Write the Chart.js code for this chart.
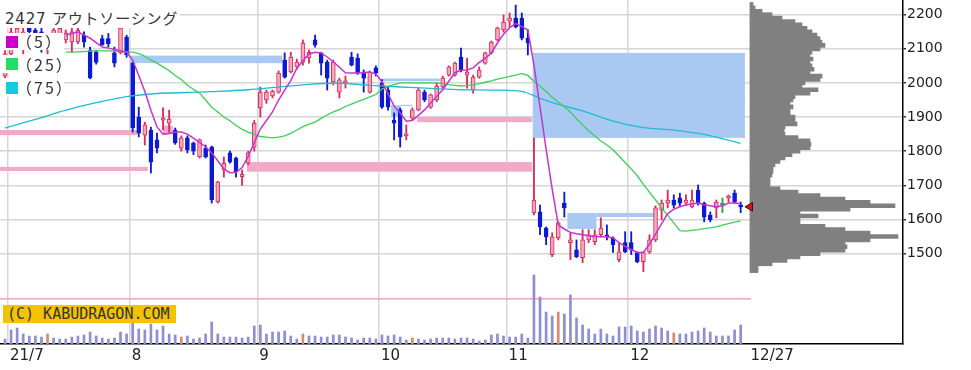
<!DOCTYPE html>
<html lang="ja">
<head>
<meta charset="utf-8">
<title>2427 アウトソーシング</title>
<script src="https://cdn.jsdelivr.net/npm/chart.js@4.4.1/dist/chart.umd.min.js"></script>
<style>
  html, body { margin: 0; padding: 0; background: #fff; }
  #wrap { position: relative; width: 971px; height: 370px; overflow: hidden; }
  #mainChart { position: absolute; left: 0; top: 0; }
  #profileChart { position: absolute; left: 740px; top: 0; }
  .box { position: absolute; background: #fff; color: #333; white-space: nowrap; }
  #title { left: 0; top: 0; width: 180px; height: 28px; padding: 11px 0 0 5px; box-sizing: border-box;
           font: 15px "DejaVu Sans", "Noto Sans CJK JP", sans-serif; line-height: 17px; letter-spacing: 0.8px; }
  .legend-row { left: 0; width: 64px; font: 16px "Noto Sans CJK JP", sans-serif; letter-spacing: 2px; }
  .legend-row .swatch { position: absolute; left: 6px; width: 12px; height: 12px; }
  .legend-row .label { position: absolute; left: 16px; top: 0; }
  #copyright { left: 3px; top: 305px; width: 173px; height: 18px; padding-left: 4px; box-sizing: border-box;
               background: #f3c300; font: 15px "DejaVu Sans Mono", monospace; line-height: 18px; }
</style>
</head>
<body>
<div id="wrap">
  <canvas id="mainChart" width="971" height="370"></canvas>
  <canvas id="profileChart" width="163" height="344"></canvas>
  <div id="title" class="box">2427 アウトソーシング</div>
  <div class="box legend-row" style="top:33px;height:17px;">
    <span class="swatch" style="top:3px;background:#cc00cc;"></span><span class="label" style="line-height:17px;">（5）</span>
  </div>
  <div class="box legend-row" style="top:55px;height:18px;">
    <span class="swatch" style="top:3px;background:#22dd66;"></span><span class="label" style="line-height:18px;">（25）</span>
  </div>
  <div class="box legend-row" style="top:78px;height:19px;">
    <span class="swatch" style="top:4px;background:#11ccdd;"></span><span class="label" style="line-height:19px;">（75）</span>
  </div>
  <div id="copyright" class="box">(C) KABUDRAGON.COM</div>
</div>
<script>
// trading days: index 0 = 2021/6/30 ... index 121 = 2021/12/27
const monthTicks = [0.5, 20.5, 41.5, 61.5, 82.5, 102.5, 122.3];
const monthLabels = ["21/7", "8", "9", "10", "11", "12", "12/27"];
const priceTicks = [1500, 1600, 1700, 1800, 1900, 2000, 2100, 2200];

const opens = [
  2020, 2085, 2130, 2135, 2160, 2155, 2150, 2100, 2130, 2140,
  2126, 2120, 2120, 2140, 2095, 2090, 2130, 2130, 2088, 2088,
  2134, 2058, 1900, 1847, 1862, 1833, 1891, 1882, 1862, 1809,
  1839, 1824, 1783, 1809, 1812, 1651, 1745, 1795, 1780, 1725,
  1765, 1812, 1927, 1950, 1962, 1973, 2067, 2032, 2047, 2061,
  2073, 2126, 2088, 2061, 2003, 1973, 2000, 2076, 2073, 2032,
  1973, 2044, 2000, 1979, 1891, 1921, 1845, 1897, 1921, 1973,
  1929, 1950, 1988, 2023, 2023, 2076, 2023, 1979, 2017, 2058,
  2088, 2126, 2155, 2181, 2190, 2190, 2131, 1619, 1622, 1575,
  1497, 1546, 1648, 1532, 1511, 1488, 1540, 1535, 1555, 1555,
  1546, 1482, 1532, 1532, 1503, 1476, 1505, 1540, 1628, 1648,
  1657, 1663, 1648, 1637, 1686, 1648, 1613, 1634, 1642, 1663,
  1677, 1642,
];
const highs = [
  2095, 2165, 2170, 2165, 2165, 2160, 2160, 2140, 2165, 2165,
  2155, 2160, 2160, 2150, 2105, 2095, 2140, 2145, 2105, 2165,
  2140, 2060, 1929, 1885, 1870, 1853, 1927, 1920, 1868, 1845,
  1845, 1827, 1836, 1818, 1815, 1712, 1783, 1800, 1783, 1745,
  1800, 1890, 1988, 1979, 1979, 2035, 2088, 2090, 2070, 2126,
  2096, 2140, 2090, 2067, 2067, 2014, 2020, 2090, 2085, 2038,
  2035, 2050, 2010, 1990, 1912, 1927, 1877, 1927, 1985, 1979,
  1968, 2000, 2020, 2050, 2061, 2102, 2073, 2023, 2047, 2090,
  2123, 2164, 2199, 2205, 2228, 2205, 2155, 1839, 1642, 1578,
  1561, 1593, 1680, 1561, 1540, 1570, 1570, 1570, 1605, 1584,
  1549, 1532, 1564, 1564, 1505, 1505, 1555, 1640, 1657, 1686,
  1672, 1677, 1672, 1686, 1701, 1651, 1622, 1657, 1663, 1672,
  1686, 1651,
];
const lows = [
  2010, 2075, 2120, 2085, 2140, 2130, 2090, 2085, 2120, 2125,
  2117, 2090, 2115, 2105, 2012, 2055, 2110, 2105, 2047, 2085,
  2075, 1856, 1842, 1818, 1736, 1795, 1862, 1856, 1820, 1800,
  1795, 1790, 1780, 1780, 1648, 1648, 1724, 1765, 1724, 1700,
  1760, 1800, 1900, 1940, 1956, 1970, 2014, 2029, 2040, 2052,
  2058, 2105, 2023, 1979, 1994, 1956, 1985, 2050, 2025, 1973,
  1970, 2020, 1925, 1920, 1833, 1812, 1833, 1891, 1918, 1945,
  1925, 1945, 1985, 2020, 2020, 2032, 1985, 1970, 2014, 2055,
  2085, 2123, 2149, 2165, 2161, 2126, 2082, 1613, 1555, 1526,
  1491, 1540, 1607, 1482, 1488, 1473, 1532, 1526, 1549, 1540,
  1503, 1476, 1503, 1497, 1473, 1447, 1500, 1535, 1599, 1634,
  1634, 1637, 1642, 1634, 1642, 1593, 1593, 1605, 1620, 1651,
  1648, 1620,
];
const closes = [
  2085, 2150, 2160, 2150, 2150, 2140, 2100, 2130, 2155, 2160,
  2146, 2150, 2155, 2120, 2015, 2060, 2112, 2115, 2058, 2161,
  2082, 1868, 1853, 1877, 1768, 1809, 1897, 1894, 1824, 1839,
  1804, 1800, 1833, 1783, 1657, 1710, 1765, 1768, 1739, 1732,
  1795, 1882, 1973, 1973, 1976, 2029, 2017, 2076, 2061, 2117,
  2090, 2111, 2058, 2014, 2061, 2009, 2005, 2052, 2029, 2014,
  2032, 2029, 1929, 1929, 1882, 1842, 1849, 1921, 1979, 1950,
  1965, 1991, 2014, 2047, 2058, 2038, 2032, 2017, 2038, 2088,
  2120, 2161, 2178, 2190, 2164, 2131, 2117, 1657, 1578, 1549,
  1549, 1590, 1634, 1540, 1491, 1540, 1555, 1555, 1575, 1549,
  1526, 1505, 1505, 1511, 1476, 1503, 1540, 1634, 1648, 1657,
  1642, 1648, 1657, 1657, 1648, 1607, 1599, 1651, 1642, 1666,
  1651, 1637,
];
// volume, thousand shares
const volumes = [
  100, 280, 320, 200, 160, 160, 140, 200, 120, 100,
  100, 140, 160, 180, 240, 160, 120, 100, 120, 240,
  200, 440, 300, 280, 400, 280, 360, 200, 180, 140,
  160, 100, 120, 200, 440, 200, 140, 140, 140, 120,
  140, 360, 380, 200, 240, 240, 260, 160, 100, 200,
  160, 160, 140, 140, 180, 180, 140, 120, 80, 120,
  120, 100, 180, 160, 180, 140, 80, 120, 100, 80,
  100, 120, 120, 120, 100, 120, 120, 100, 60, 80,
  180, 200, 160, 140, 140, 200, 120, 1380, 940, 640,
  560, 640, 600, 980, 520, 380, 300, 200, 300, 200,
  160, 340, 340, 360, 260, 240, 300, 360, 320, 260,
  220, 200, 200, 240, 260, 320, 240, 160, 160, 160,
  280, 380,
];
const sqDays = [7, 29, 49, 67, 91, 110];

const ma5 = [
  null, null, null, null, null, null, null, null, null, null,
  2140, 2145, 2150, 2140, 2131, 2118, 2105, 2102, 2098, 2094,
  2090, 2067, 2022, 1975, 1920, 1871, 1850, 1852, 1856, 1856,
  1850, 1838, 1825, 1813, 1795, 1772, 1748, 1737, 1738, 1752,
  1785, 1825, 1865, 1890, 1915, 1950, 1979, 2007, 2043, 2065,
  2085, 2090, 2088, 2076, 2062, 2046, 2030, 2029, 2029, 2030,
  2032, 2026, 2003, 1968, 1932, 1912, 1888, 1890, 1905, 1921,
  1941, 1960, 1980, 2005, 2030, 2037, 2038, 2044, 2060, 2072,
  2088, 2117, 2143, 2162, 2174, 2165, 2155, 2052, 1929, 1806,
  1689, 1584, 1572, 1562, 1558, 1555, 1552, 1550, 1549, 1549,
  1546, 1532, 1521, 1512, 1503, 1503, 1528, 1557, 1588, 1617,
  1630, 1637, 1642, 1645, 1648, 1643, 1640, 1637, 1640, 1648,
  1648, 1646,
];
const ma25 = [
  null, null, null, null, null, null, null, null, null, null,
  2090, 2090, 2091, 2092, 2093, 2094, 2094, 2094, 2093, 2092,
  2091, 2090, 2086, 2078, 2067, 2058, 2047, 2036, 2022, 2010,
  1994, 1981, 1970, 1950, 1929, 1915, 1900, 1889, 1875, 1864,
  1856, 1849, 1843, 1841, 1839, 1841, 1845, 1852, 1862, 1872,
  1879, 1885, 1896, 1906, 1915, 1922, 1931, 1938, 1945, 1952,
  1959, 1966, 1982, 1990, 1995, 2000, 2000, 2000, 2000, 2000,
  2000, 2000, 1998, 1995, 1993, 1991, 1992, 1994, 1998, 2002,
  2006, 2011, 2015, 2019, 2023, 2027, 2022, 2005, 1990, 1975,
  1958, 1944, 1930, 1915, 1895, 1877, 1860, 1845, 1830, 1818,
  1804, 1786, 1767, 1748, 1728, 1703, 1680, 1657, 1634, 1612,
  1590, 1567, 1566, 1568, 1570, 1573, 1575, 1578, 1583, 1588,
  1592, 1596,
];
const ma75Days = [0, 5, 10, 15, 20, 25, 30, 35, 40, 45, 50, 55, 60, 65, 70, 75, 80, 85, 88, 91, 95, 100, 105, 110, 115, 121];
const ma75 = [1868, 1893, 1920, 1942, 1960, 1969, 1972, 1975, 1980, 1988, 1996, 1999, 1993, 1988, 1984, 1980, 1979, 1975, 1955, 1937, 1918, 1888, 1869, 1862, 1849, 1823];

// [from day, to day, low price, high price]
const pinkZones = [
  [-1, 21.7, 1847, 1862],
  [-1, 23.5, 1742, 1754],
  [26, 27.6, 1850, 1875],
  [39.8, 86.7, 1740, 1768],
  [67.8, 86.7, 1885, 1900],
  [-1, 122.7, 1365, 1370],
];
const blueZones = [
  [20.6, 45.6, 2058, 2080],
  [62, 71.5, 2005, 2013],
  [63.5, 65, 1900, 1935],
  [65, 67, 1932, 1936],
  [86.8, 121.7, 1839, 2088],
  [92.5, 97.3, 1572, 1619],
  [97.3, 107, 1607, 1619],
];

// volume by price
const profilePrices = [
  2230, 2220, 2210, 2200, 2190, 2180, 2170, 2160, 2150, 2140,
  2130, 2120, 2110, 2100, 2090, 2080, 2070, 2060, 2050, 2040,
  2030, 2020, 2010, 2000, 1990, 1980, 1970, 1960, 1950, 1940,
  1930, 1920, 1910, 1900, 1890, 1880, 1870, 1860, 1850, 1840,
  1830, 1820, 1810, 1800, 1790, 1780, 1770, 1760, 1750, 1740,
  1730, 1720, 1710, 1700, 1690, 1680, 1670, 1660, 1650, 1640,
  1630, 1620, 1610, 1600, 1590, 1580, 1570, 1560, 1550, 1540,
  1530, 1520, 1510, 1500, 1490, 1480, 1470, 1460, 1450,
];
const profileVolumes = [
  3, 5, 12, 22, 32, 45, 52, 57, 62, 67,
  70, 72, 75, 70, 62, 60, 63, 60, 62, 64,
  60, 72, 70, 55, 52, 68, 60, 45, 43, 40,
  43, 40, 40, 45, 45, 47, 35, 34, 35, 48,
  60, 61, 60, 50, 42, 35, 30, 25, 23, 23,
  22, 20, 20, 20, 30, 48, 70, 95, 120, 145,
  100, 50, 68, 50, 50, 75, 95, 120, 148, 120,
  95, 97, 95, 70, 50, 37, 22, 8, 8,
];

const PRICE_MIN = 1235;
const PRICE_MAX = 2243;
const GRID = "#d6d6d6";
const RISE_FILL = "#f4a9be";
const RISE_LINE = "#dc2a5a";
const FALL = "#0c1ad4";
const FLAT = "#2ea043";
const FONT = "'DejaVu Sans', sans-serif";

function lineColor(i) {
  if (closes[i] > opens[i]) return RISE_LINE;
  if (closes[i] < opens[i]) return FALL;
  return FLAT;
}

function fillColor(i) {
  if (closes[i] > opens[i]) return RISE_FILL;
  if (closes[i] < opens[i]) return FALL;
  return FLAT;
}

const zonePlugin = {
  id: "zones",
  beforeDatasetsDraw(chart) {
    const { ctx, chartArea, scales } = chart;
    ctx.save();
    ctx.beginPath();
    ctx.rect(chartArea.left, chartArea.top, chartArea.width, chartArea.height);
    ctx.clip();
    const paint = (zones, color) => {
      ctx.fillStyle = color;
      zones.forEach(([from, to, low, high]) => {
        const x1 = scales.x.getPixelForValue(from);
        const x2 = scales.x.getPixelForValue(to);
        const y1 = scales.y.getPixelForValue(high);
        const y2 = scales.y.getPixelForValue(low);
        ctx.fillRect(x1, y1, x2 - x1, y2 - y1);
      });
    };
    paint(blueZones, "#a9c9f2");
    paint(pinkZones, "#f2a9c8");
    ctx.restore();
  },
};

function maLine(values, color, width, order) {
  return {
    type: "line",
    data: values.map((v, i) => ({ x: i, y: v })),
    borderColor: color,
    borderWidth: width,
    pointRadius: 0,
    tension: 0,
    order: order,
  };
}

new Chart(document.getElementById("mainChart"), {
  type: "bar",
  data: {
    datasets: [
      maLine(ma5, "#c832d2", 1.5, 1),
      maLine(ma25, "#3ccf5a", 1.3, 2),
      {
        type: "line",
        data: ma75Days.map((d, k) => ({ x: d, y: ma75[k] })),
        borderColor: "#20bcd4",
        borderWidth: 1.3,
        pointRadius: 0,
        tension: 0.3,
        order: 3,
      },
      {
        type: "bar",
        data: opens.map((o, i) => ({ x: i, y: [o, closes[i]] })),
        backgroundColor: (ctx) => fillColor(ctx.dataIndex),
        borderColor: (ctx) => lineColor(ctx.dataIndex),
        borderWidth: 1,
        borderSkipped: false,
        barThickness: 4,
        minBarLength: 2,
        grouped: false,
        order: 4,
      },
      {
        type: "bar",
        data: lows.map((l, i) => ({ x: i, y: [l, highs[i]] })),
        backgroundColor: (ctx) => lineColor(ctx.dataIndex),
        borderWidth: 0,
        barThickness: 1.2,
        grouped: false,
        order: 5,
      },
      {
        type: "bar",
        yAxisID: "yv",
        data: volumes.map((v, i) => ({ x: i, y: v })),
        backgroundColor: (ctx) => (sqDays.includes(ctx.dataIndex) ? "#d98a6c" : "#8e8ed2"),
        borderWidth: 0,
        barThickness: 2,
        grouped: false,
        order: 6,
      },
    ],
  },
  options: {
    responsive: false,
    devicePixelRatio: 1,
    animation: false,
    layout: { padding: 0, autoPadding: false },
    plugins: { legend: { display: false }, tooltip: { enabled: false } },
    scales: {
      x: {
        type: "linear",
        min: -0.82,
        max: 147.7,
        offset: false,
        bounds: "data",
        afterBuildTicks: (s) => { s.ticks = monthTicks.map((v) => ({ value: v })); },
        afterFit: (s) => { s.height = 26; s.paddingLeft = 0; s.paddingRight = 0; },
        ticks: {
          callback: (v, idx) => monthLabels[idx],
          autoSkip: false,
          maxRotation: 0,
          align: "start",
          labelOffset: 2,
          padding: 3,
          color: "#222",
          font: { family: FONT, size: 15 },
        },
        grid: {
          offset: false,
          color: (ctx) => (ctx.index === monthTicks.length - 1 ? "rgba(0,0,0,0)" : GRID),
          lineWidth: 1.5,
          drawTicks: false,
        },
        border: { display: true, color: "#000", width: 1.5 },
      },
      y: {
        type: "linear",
        position: "right",
        min: PRICE_MIN,
        max: PRICE_MAX,
        beginAtZero: false,
        bounds: "data",
        afterBuildTicks: (s) => { s.ticks = priceTicks.map((v) => ({ value: v })); },
        afterFit: (s) => { s.width = 68; s.paddingTop = 0; s.paddingBottom = 0; },
        ticks: {
          callback: (v) => String(v),
          padding: 1,
          color: "#222",
          font: { family: FONT, size: 14 },
        },
        grid: { color: GRID, lineWidth: 1.5, tickLength: 3, tickColor: "#333" },
        border: { display: true, color: "#000", width: 1.5 },
      },
      yv: { type: "linear", display: false, min: 0, max: 6880 },
    },
  },
  plugins: [zonePlugin],
});

new Chart(document.getElementById("profileChart"), {
  type: "bar",
  data: {
    datasets: [
      {
        type: "scatter",
        data: [{ x: 0, y: closes[closes.length - 1] }],
        pointStyle: "triangle",
        pointRadius: 5,
        pointRotation: -90,
        pointBackgroundColor: "#d4140f",
        pointBorderColor: "#5a0000",
        pointBorderWidth: 1,
        order: 0,
      },
      {
        type: "bar",
        data: profilePrices.map((p, k) => ({ x: profileVolumes[k], y: p })),
        backgroundColor: "#808080",
        borderWidth: 0,
        barThickness: 4,
        order: 1,
      },
    ],
  },
  options: {
    indexAxis: "y",
    responsive: false,
    devicePixelRatio: 1,
    animation: false,
    layout: { padding: 0, autoPadding: false },
    plugins: { legend: { display: false }, tooltip: { enabled: false } },
    scales: {
      x: { type: "linear", display: false, min: -10, max: 153, offset: false },
      y: { type: "linear", display: false, min: PRICE_MIN, max: PRICE_MAX, offset: false },
    },
  },
});
</script>
</body>
</html>
